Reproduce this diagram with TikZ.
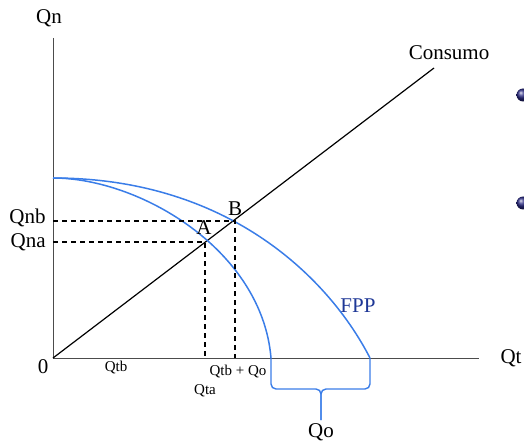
\documentclass[tikz,border=0pt]{standalone}
\usepackage{fontspec}
\setmainfont{Liberation Serif}
\usetikzlibrary{positioning}
\definecolor{fppblue}{RGB}{58,125,232}
\definecolor{fpptext}{RGB}{30,55,150}
\definecolor{bulletblue}{RGB}{40,40,130}

\begin{document}
\begin{tikzpicture}[x=0.5pt, y=-0.5pt,
  axis/.style={draw=black!70, line width=0.5pt},
  fpp/.style={draw=fppblue, line width=0.75pt},
  brace/.style={draw=fppblue, line width=0.7pt, rounded corners=2.5pt},
  guide/.style={draw, line width=0.6pt, dash pattern=on 2.5pt off 2pt},
  lbl/.style={font=\fontsize{10.5}{12}\selectfont, inner sep=0.5pt},
  tick/.style={font=\fontsize{7.5}{9}\selectfont, inner sep=0.5pt},
  bullet/.style={circle, minimum size=6.5pt, inner sep=0pt, ball color=bulletblue},
]
\useasboundingbox (0,0) rectangle (524,443);
\clip (0,0) rectangle (524,443);

% axes and points
\coordinate (O) at (53,358);
\coordinate (ytop) at (53,38);
\coordinate (xend) at (479,358);
\coordinate (cend) at (434,68);
\coordinate (top) at (53,178);
\coordinate (A) at (205,242);
\coordinate (B) at (235,221);
\coordinate (inner) at (271,358);
\coordinate (outer) at (370,358);
\coordinate (brc) at (321,389);
\coordinate (qoTip) at (321,420);

\draw[axis] (ytop) -- (O) -- (xend);
\draw[line width=0.6pt] (O) -- (cend);

% frontiers
\draw[fpp] (top) .. controls (140,178) and (262,250) .. (inner);
\draw[fpp] (top) .. controls (230,178) and (330,280) .. (outer);

% guides
\draw[guide] (O |- B) -- (B) -- (B |- O);
\draw[guide] (O |- A) -- (A) -- (A |- O);

% brace
\draw[brace] (inner) |- (brc) -- (qoTip);
\draw[brace] (outer) |- (brc) -- (qoTip);

% labels
\node[lbl] (qn) at (49,18) {Qn};
\node[lbl] (zero) at (43,367) {0};
\node[lbl] (qt) at (511,358) {Qt};
\node[lbl, anchor=east] (qnb) at (47,218) {Qnb};
\node[lbl, anchor=east] (qna) at (47,242) {Qna};
\node[lbl] (la) at (204,228) {A};
\node[lbl] (lb) at (235,209) {B};
\node[lbl] (cons) at (449,53) {Consumo};
\node[lbl, text=fpptext] (fpp) at (358,306) {FPP};
\node[tick] (qtb) at (116,368) {Qtb};
\node[tick] (qtbo) at (238,372) {Qtb + Qo};
\node[tick] (qta) at (205,391) {Qta};
\node[lbl, below=1pt of qoTip] (qo) {Qo};

\node[bullet] (b1) at (523,95) {};
\node[bullet] (b2) at (523,203) {};
\end{tikzpicture}
\end{document}
